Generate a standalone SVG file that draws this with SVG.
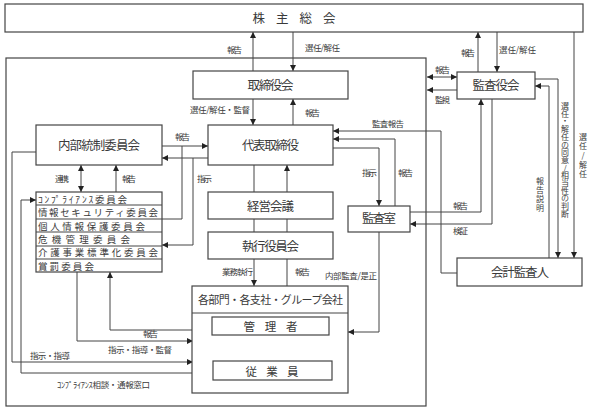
<svg xmlns="http://www.w3.org/2000/svg" width="598" height="411" viewBox="0 0 598 411">
<style>
.box{fill:#fff;stroke:#444;stroke-width:1.2}
.frame{fill:none;stroke:#444;stroke-width:1.2}
.ln{fill:none;stroke:#444;stroke-width:1}
.t{font-family:"Noto Sans CJK JP","Liberation Sans",sans-serif;fill:#3a3a3a}
.m{font-size:12.5px;text-anchor:middle}
.s{font-size:8.5px}
.c{font-size:9.5px}
.v{font-size:8px;writing-mode:vertical-rl;text-orientation:upright}
</style>
<defs>
<marker id="a" markerUnits="userSpaceOnUse" markerWidth="7" markerHeight="6" refX="6" refY="3" orient="auto"><path d="M0,0L6,3L0,6Z" fill="#222"/></marker>
<marker id="b" markerUnits="userSpaceOnUse" markerWidth="7" markerHeight="6" refX="0" refY="3" orient="auto"><path d="M6,0L0,3L6,6Z" fill="#222"/></marker>
</defs>

<rect class="frame" x="6" y="58" width="420" height="348"/>

<g id="connectors">
<path class="ln" marker-end="url(#a)" d="M253,71V32"/>
<path class="ln" marker-end="url(#a)" d="M293,32V71"/>
<path class="ln" marker-end="url(#a)" d="M253,99V125"/>
<path class="ln" marker-end="url(#a)" d="M293,125V99"/>
<path class="ln" marker-end="url(#a)" d="M162,146H208"/>
<path class="ln" d="M162,219H182V146"/>
<path class="ln" marker-end="url(#a)" d="M208,158H162"/>
<path class="ln" marker-end="url(#a)" d="M193,158V245H162"/>
<path class="ln" marker-start="url(#b)" marker-end="url(#a)" d="M81,165V192"/>
<path class="ln" marker-end="url(#a)" d="M116,192V165"/>
<path class="ln" marker-end="url(#a)" d="M36,152H12V362H193"/>
<path class="ln" marker-end="url(#a)" d="M213,373H21V200H36"/>
<path class="ln" marker-end="url(#a)" d="M77,272V341H193"/>
<path class="ln" marker-end="url(#a)" d="M193,330H110V272"/>
<path class="ln" d="M254,165V192M254,219V232M287,219V232M287,286V259"/>
<path class="ln" marker-end="url(#a)" d="M287,192V165"/>
<path class="ln" marker-end="url(#a)" d="M254,259V286"/>
<path class="ln" marker-end="url(#a)" d="M254,335V361"/>
<path class="ln" marker-end="url(#a)" d="M285,361V335"/>
<path class="ln" marker-end="url(#a)" d="M333,148H379V206"/>
<path class="ln" marker-end="url(#a)" d="M395,206V139H333"/>
<path class="ln" marker-end="url(#a)" d="M457,273H441V131H333"/>
<path class="ln" marker-end="url(#a)" d="M379,232V332H348"/>
<path class="ln" marker-start="url(#b)" marker-end="url(#a)" d="M427,77H457"/>
<path class="ln" marker-end="url(#a)" d="M457,90H427"/>
<path class="ln" marker-end="url(#a)" d="M478,72V32"/>
<path class="ln" marker-end="url(#a)" d="M497,32V72"/>
<path class="ln" marker-end="url(#a)" d="M410,212H481V99"/>
<path class="ln" marker-end="url(#a)" d="M492,99V224H410"/>
<path class="ln" marker-end="url(#a)" d="M549,258V86H535"/>
<path class="ln" marker-end="url(#a)" d="M535,79H558V258"/>
<path class="ln" marker-end="url(#a)" d="M574,32V258"/>
</g>

<g id="labels">
<text class="t s" x="227" y="53" textLength="15">報告</text>
<text class="t s" x="305" y="51" textLength="35">選任/解任</text>
<text class="t s" x="190" y="113" textLength="60">選任/解任・監督</text>
<text class="t s" x="305" y="116" textLength="15">報告</text>
<text class="t s" x="175" y="140" textLength="15">報告</text>
<text class="t s" x="197" y="182" textLength="15">指示</text>
<text class="t s" x="55" y="182" textLength="14">連携</text>
<text class="t s" x="122" y="182" textLength="14">報告</text>
<text class="t s" x="461" y="56" textLength="14">報告</text>
<text class="t s" x="499" y="53" textLength="37">選任/解任</text>
<text class="t s" x="435" y="73" textLength="15">報告</text>
<text class="t s" x="435" y="103" textLength="15">監視</text>
<text class="t s" x="372" y="127" textLength="32">監査報告</text>
<text class="t s" x="362" y="176" textLength="15">指示</text>
<text class="t s" x="398" y="176" textLength="15">報告</text>
<text class="t s" x="453" y="209" textLength="15">報告</text>
<text class="t s" x="453" y="234" textLength="15">検証</text>
<text class="t s" x="222" y="275" textLength="31">業務執行</text>
<text class="t s" x="295" y="275" textLength="15">報告</text>
<text class="t s" x="325" y="279" textLength="52">内部監査/是正</text>
<text class="t s" x="143" y="337" textLength="15">報告</text>
<text class="t s" x="108" y="353" textLength="64">指示・指導・監督</text>
<text class="t s" x="30" y="359" textLength="40">指示・指導</text>
<text class="t s" x="57" y="388" textLength="93">ｺﾝﾌﾟﾗｲｱﾝｽ相談・通報窓口</text>
<text class="t s" x="196" y="349" textLength="57">指示・指導・監督</text>
<text class="t s" x="298" y="353" textLength="15">報告</text>
<text class="t v" x="540" y="177" letter-spacing="1">報告説明</text>
<text class="t v" x="565" y="102" letter-spacing="-0.3">選任・解任の同意/相当性の判断</text>
<text class="t v" x="583" y="133" letter-spacing="1.2">選任/解任</text>
</g>

<g id="n_shareholders">
<rect class="box" x="5" y="4" width="578" height="28"/>
<text class="t m" x="294" y="23" textLength="83">株　主　総　会</text>
</g>
<g id="n_board">
<rect class="box" x="193" y="71" width="155" height="28"/>
<text class="t m" x="270.5" y="90" textLength="46">取締役会</text>
</g>
<g id="n_ceo">
<rect class="box" x="208" y="125" width="125" height="40"/>
<text class="t m" x="270.5" y="150" textLength="57">代表取締役</text>
</g>
<g id="n_internal">
<rect class="box" x="36" y="125" width="126" height="40"/>
<text class="t m" x="99" y="150" textLength="82">内部統制委員会</text>
</g>
<g id="n_committees">
<rect class="box" x="36" y="192" width="126" height="80"/>
<path class="ln" d="M36,205H162M36,219H162M36,232H162M36,246H162M36,259H162"/>
<text class="t c" x="38" y="202.5" textLength="89">ｺﾝﾌﾟﾗｲｱﾝｽ委員会</text>
<text class="t c" x="38" y="216" textLength="120">情報セキュリティ委員会</text>
<text class="t c" x="38" y="229.5" textLength="107">個人情報保護委員会</text>
<text class="t c" x="38" y="243" textLength="92">危機管理委員会</text>
<text class="t c" x="38" y="256.3" textLength="120">介護事業標準化委員会</text>
<text class="t c" x="38" y="269.7" textLength="56">賞罰委員会</text>
</g>
<g id="n_mgmt">
<rect class="box" x="208" y="192" width="125" height="27"/>
<text class="t m" x="270.5" y="211" textLength="47">経営会議</text>
</g>
<g id="n_exec">
<rect class="box" x="208" y="232" width="125" height="27"/>
<text class="t m" x="270.5" y="251" textLength="57">執行役員会</text>
</g>
<g id="n_audit_office">
<rect class="box" x="348" y="206" width="62" height="26"/>
<text class="t m" x="379" y="223" textLength="34">監査室</text>
</g>
<g id="n_auditors">
<rect class="box" x="457" y="72" width="78" height="27"/>
<text class="t m" x="496" y="90" textLength="47">監査役会</text>
</g>
<g id="n_accountant">
<rect class="box" x="457" y="258" width="125" height="28"/>
<text class="t m" x="520" y="277" textLength="58">会計監査人</text>
</g>
<g id="n_depts">
<rect class="box" x="192" y="286" width="156" height="107"/>
<path class="ln" d="M192,313H348"/>
<text class="t m" x="270.5" y="304" textLength="145" style="font-size:11px">各部門・各支社・グループ会社</text>
</g>
<g id="n_manager">
<rect class="box" x="212" y="317" width="117" height="18"/>
<text class="t m" x="270.5" y="331" textLength="54" style="font-size:11.5px">管　理　者</text>
</g>
<g id="n_staff">
<rect class="box" x="213" y="361" width="119" height="19"/>
<text class="t m" x="272" y="375.5" textLength="53" style="font-size:11.5px">従　業　員</text>
</g>
</svg>
